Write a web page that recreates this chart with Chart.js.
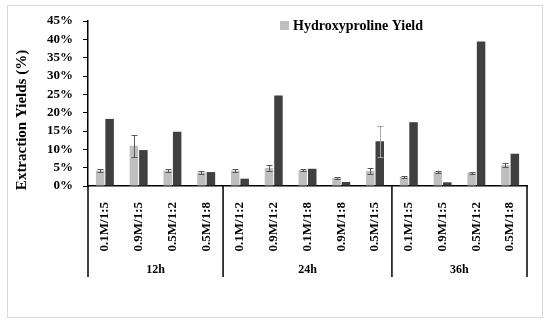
<!DOCTYPE html>
<html lang="en">
<head>
  <meta charset="UTF-8">
  <title>Extraction Yields</title>
  <script src="https://cdn.jsdelivr.net/npm/chart.js"></script>
  <style>
    body { margin: 0; background: #fff; }
    #wrap { width: 550px; height: 325px; }
  </style>
</head>
<body>
  <div id="wrap"><canvas id="yieldChart" width="550" height="325"></canvas></div>

  <script>
    // categories (acid concentration / ratio) and their time groups
    const categories = ['0.1M/1:5', '0.9M/1:5', '0.5M/1:2', '0.5M/1:8',
                        '0.1M/1:2', '0.9M/1:2', '0.1M/1:8', '0.9M/1:8', '0.5M/1:5',
                        '0.1M/1:5', '0.9M/1:5', '0.5M/1:2', '0.5M/1:8'];
    const groupLabels = ['12h', '24h', '36h'];
    const groupSizes = [4, 5, 4];

    // series values in %
    const hypYield = [4.2, 11.0, 4.2, 3.7, 4.2, 4.9, 4.3, 2.2, 4.1, 2.4, 3.9, 3.6, 5.7];
    const hypError = [0.5, 3.0, 0.4, 0.3, 0.4, 0.7, 0.3, 0.3, 0.9, 0.3, 0.3, 0.3, 0.6];
    const extYield = [18.3, 9.8, 14.8, 3.8, 2.0, 24.7, 4.7, 1.1, 12.2, 17.4, 1.0, 39.4, 8.8];
    const extError = [0, 0, 0, 0, 0, 0, 0, 0, 4.2, 0, 0, 0, 0];

    const yTicks = [0, 5, 10, 15, 20, 25, 30, 35, 40, 45];

    const serif = "'Liberation Serif', 'Times New Roman', serif";
    Chart.defaults.color = '#000';
    Chart.defaults.font.family = serif;

    // outer frame
    const framePlugin = {
      id: 'frame',
      beforeDraw(chart) {
        const ctx = chart.ctx;
        ctx.save();
        ctx.strokeStyle = '#d9d9d9';
        ctx.lineWidth = 1;
        ctx.strokeRect(7.5, 5.5, 535, 312);
        ctx.restore();
      }
    };

    // error bars drawn on the y scale
    const errorBarPlugin = {
      id: 'errorBars',
      afterDatasetsDraw(chart) {
        const ctx = chart.ctx;
        const y = chart.scales.y;
        chart.data.datasets.forEach((ds, di) => {
          if (!ds.errors) return;
          const meta = chart.getDatasetMeta(di);
          ctx.save();
          ctx.strokeStyle = ds.errorColor;
          ctx.lineWidth = 1;
          meta.data.forEach((bar, i) => {
            const e = ds.errors[i];
            if (!e) return;
            const top = Math.round(y.getPixelForValue(ds.data[i] + e)) + 0.5;
            const bot = Math.round(y.getPixelForValue(ds.data[i] - e)) + 0.5;
            const x = Math.round(bar.x) + 0.5;
            ctx.beginPath();
            ctx.moveTo(x, top); ctx.lineTo(x, bot);
            ctx.moveTo(x - 3, top); ctx.lineTo(x + 3, top);
            ctx.moveTo(x - 3, bot); ctx.lineTo(x + 3, bot);
            ctx.stroke();
          });
          ctx.restore();
        });
      }
    };

    // group separators, group labels, axis title and legend
    const decorPlugin = {
      id: 'decor',
      afterDraw(chart) {
        const ctx = chart.ctx;
        const xs = chart.scales.x;
        const area = chart.chartArea;
        const lineBottom = 277;
        ctx.save();
        ctx.strokeStyle = '#000';
        ctx.lineWidth = 1.5;

        const bounds = [area.left];
        let idx = 0;
        groupSizes.forEach(n => {
          idx += n;
          if (idx < categories.length) {
            bounds.push((xs.getPixelForTick(idx - 1) + xs.getPixelForTick(idx)) / 2);
          } else {
            bounds.push(area.right);
          }
        });
        bounds.forEach(b => {
          ctx.beginPath();
          ctx.moveTo(b, area.bottom);
          ctx.lineTo(b, lineBottom);
          ctx.stroke();
        });

        ctx.fillStyle = '#000';
        ctx.font = 'bold 12px ' + serif;
        ctx.textAlign = 'center';
        ctx.textBaseline = 'middle';
        groupLabels.forEach((lbl, g) => {
          ctx.fillText(lbl, (bounds[g] + bounds[g + 1]) / 2, 270);
        });

        // y axis title
        ctx.save();
        ctx.translate(22, 120);
        ctx.rotate(-Math.PI / 2);
        ctx.font = 'bold 15px ' + serif;
        ctx.fillText('Extraction Yields (%)', 0, 0);
        ctx.restore();

        // legend (first series only)
        const ds = chart.data.datasets[0];
        ctx.fillStyle = ds.backgroundColor;
        ctx.fillRect(280, 21, 9, 9);
        ctx.fillStyle = '#000';
        ctx.font = 'bold 14px ' + serif;
        ctx.textAlign = 'left';
        ctx.fillText(ds.label, 293, 26);
        ctx.restore();
      }
    };

    new Chart(document.getElementById('yieldChart').getContext('2d'), {
      type: 'bar',
      data: {
        labels: categories,
        datasets: [
          {
            label: 'Hydroxyproline Yield',
            data: hypYield,
            errors: hypError,
            errorColor: '#595959',
            backgroundColor: '#bfbfbf',
            categoryPercentage: 0.56,
            barPercentage: 0.9
          },
          {
            label: '',
            data: extYield,
            errors: extError,
            errorColor: '#a6a6a6',
            backgroundColor: '#404040',
            categoryPercentage: 0.56,
            barPercentage: 0.9
          }
        ]
      },
      options: {
        responsive: false,
        animation: false,
        layout: { padding: { top: 21, right: 23, left: 0, bottom: 0 } },
        plugins: {
          legend: { display: false },
          tooltip: { enabled: false }
        },
        scales: {
          x: {
            grid: { display: false },
            border: { color: '#000', width: 1.5 },
            ticks: {
              autoSkip: false,
              minRotation: 90,
              maxRotation: 90,
              padding: 8,
              font: { size: 13, weight: 'bold' }
            },
            afterFit(scale) { scale.height = 139; }
          },
          y: {
            min: 0,
            max: 45,
            afterBuildTicks(scale) { scale.ticks = yTicks.map(v => ({ value: v })); },
            grid: { drawOnChartArea: false, drawTicks: true, tickLength: 5, color: '#000' },
            border: { color: '#000', width: 1.5 },
            ticks: {
              autoSkip: false,
              padding: 10,
              font: { size: 13, weight: 'bold' },
              callback: v => v + '%'
            },
            afterFit(scale) { scale.width = 88; }
          }
        }
      },
      plugins: [framePlugin, errorBarPlugin, decorPlugin]
    });
  </script>
</body>
</html>
